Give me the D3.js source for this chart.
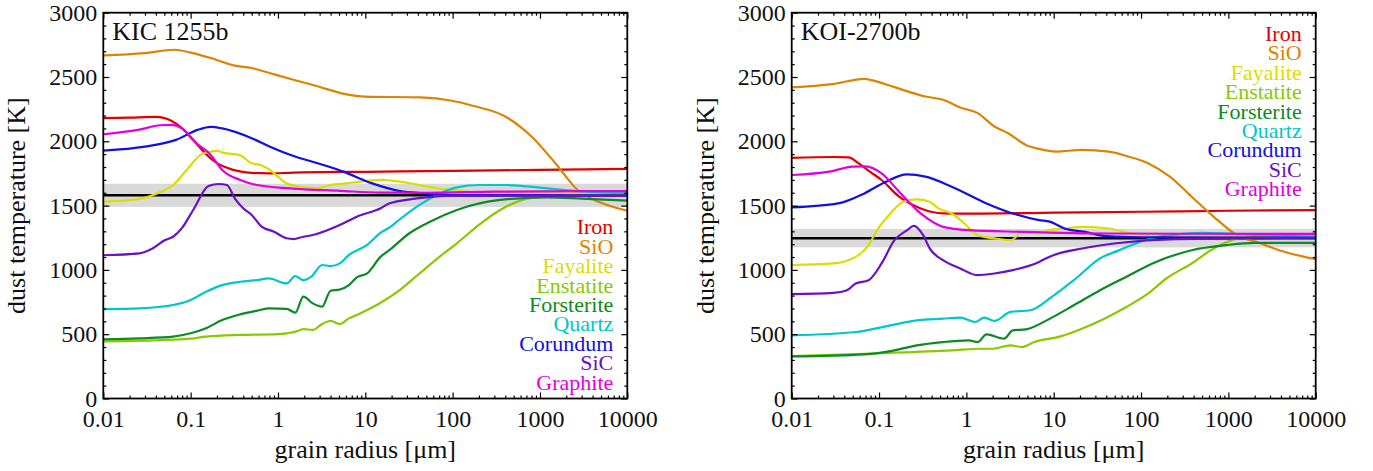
<!DOCTYPE html>
<html>
<head>
<meta charset="utf-8">
<script src="https://cdn.jsdelivr.net/npm/d3@7"></script>
<style>
  body { margin: 0; background: #fff; }
  svg { display: block; }
</style>
</head>
<body>
<div id="chart"></div>
<script>
// species, in legend order
const species = ["Iron", "SiO", "Fayalite", "Enstatite", "Forsterite", "Quartz", "Corundum", "SiC", "Graphite"];
const colors = ["#e00000", "#dc8400", "#dcdc00", "#8cc800", "#0b8a25", "#00c8c8", "#1010e0", "#6a10c8", "#e000e0"];

const xTicks = [0.01, 0.1, 1, 10, 100, 1000, 10000];
const xTickLabels = ["0.01", "0.1", "1", "10", "100", "1000", "10000"];
const yTicks = [0, 500, 1000, 1500, 2000, 2500, 3000];

// KIC 1255b: [grain radius (um), dust temperature (K)]
const kicIron = [[0.01,2180],[0.02,2184],[0.04,2190],[0.06,2160],[0.08,2100],[0.11,2000],[0.15,1900],[0.2,1830],[0.3,1780],[0.5,1755],[0.8,1750],[1.5,1757],[10,1763],[100,1770],[1000,1778],[10000,1785]];
const kicSiO = [[0.01,2668],[0.03,2685],[0.065,2712],[0.1,2690],[0.17,2648],[0.32,2588],[0.5,2570],[0.8,2531],[1.5,2479],[2.7,2432],[5.9,2367],[10,2348],[43,2341],[95,2317],[170,2276],[400,2193],[800,2037],[1500,1830],[2700,1621],[4700,1530],[10000,1460]];
const kicFayalite = [[0.01,1530],[0.025,1550],[0.04,1590],[0.05,1620],[0.063,1660],[0.09,1777],[0.13,1894],[0.17,1920],[0.2,1925],[0.24,1910],[0.36,1894],[0.5,1829],[0.63,1816],[0.8,1780],[1.0,1725],[1.25,1673],[1.8,1647],[2.8,1634],[4,1660],[6,1673],[10,1690],[15,1700],[20,1694],[35,1670],[60,1640],[100,1620],[200,1600],[1000,1595],[10000,1595]];
const kicEnstatite = [[0.01,444],[0.03,450],[0.1,465],[0.15,481],[0.37,494],[1,500],[1.26,507],[1.6,520],[1.95,540],[2.5,533],[3.2,579],[4,603],[5.1,579],[6.5,623],[8,649],[10.5,688],[15,745],[25,845],[43,980],[70,1100],[112,1207],[200,1350],[350,1466],[800,1560],[2000,1580],[10000,1576]];
const kicForsterite = [[0.01,460],[0.026,468],[0.063,481],[0.1,507],[0.15,546],[0.23,610],[0.37,654],[0.58,683],[0.8,701],[1.26,697],[1.58,667],[1.95,792],[2.5,740],[3.2,714],[4,838],[5.1,848],[6.5,882],[8,942],[10.5,973],[15,1103],[19,1155],[32,1285],[55,1375],[112,1466],[350,1544],[1200,1564],[3000,1555],[10000,1538]];
const kicQuartz = [[0.01,695],[0.026,701],[0.063,727],[0.1,766],[0.15,830],[0.23,882],[0.37,908],[0.58,921],[0.78,934],[1.26,895],[1.58,952],[1.95,921],[2.45,952],[3.2,1038],[4,1030],[5.1,1051],[6.5,1116],[10.5,1194],[15,1290],[19,1330],[23,1375],[39,1492],[66,1583],[112,1642],[200,1660],[400,1660],[1000,1640],[3000,1610],[10000,1595]];
const kicCorundum = [[0.01,1928],[0.03,1959],[0.068,2011],[0.12,2089],[0.17,2112],[0.23,2100],[0.5,2024],[0.8,1960],[1.4,1893],[3.3,1816],[5.6,1764],[12,1673],[25,1613],[46,1596],[100,1582],[10000,1578]];
const kicSiC = [[0.01,1114],[0.026,1129],[0.037,1168],[0.051,1232],[0.063,1258],[0.079,1323],[0.107,1466],[0.16,1652],[0.21,1668],[0.26,1660],[0.32,1557],[0.4,1479],[0.5,1427],[0.65,1336],[0.9,1297],[1.26,1246],[1.5,1240],[1.95,1258],[2.5,1271],[5.1,1349],[8,1414],[15,1479],[19,1518],[60,1569],[100,1578],[10000,1576]];
const kicGraphite = [[0.01,2055],[0.025,2089],[0.045,2125],[0.06,2128],[0.08,2100],[0.117,1985],[0.17,1894],[0.23,1777],[0.37,1699],[0.58,1660],[1.38,1634],[5.1,1615],[15,1601],[50,1600],[300,1608],[10000,1613]];

// KOI-2700b
const koiIron = [[0.01,1871],[0.03,1878],[0.045,1875],[0.058,1830],[0.08,1760],[0.107,1699],[0.17,1569],[0.3,1478],[0.54,1440],[1.0,1438],[10,1445],[100,1452],[1000,1460],[10000,1465]];
const koiSiO = [[0.01,2419],[0.029,2444],[0.068,2486],[0.08,2478],[0.15,2421],[0.34,2348],[0.54,2323],[0.85,2263],[1.35,2219],[2.1,2115],[3.0,2063],[4.8,1972],[6.8,1941],[10.7,1920],[21,1933],[43,1920],[68,1886],[120,1830],[214,1725],[380,1569],[680,1413],[1350,1257],[2100,1218],[3800,1153],[10000,1083]];
const koiFayalite = [[0.01,1037],[0.03,1050],[0.054,1101],[0.076,1193],[0.095,1309],[0.135,1439],[0.19,1530],[0.27,1548],[0.38,1530],[0.48,1478],[0.68,1439],[0.95,1361],[1.35,1270],[2.1,1245],[3.2,1231],[4.5,1296],[6.8,1283],[9,1310],[13.5,1322],[22,1335],[43,1322],[80,1282],[150,1270],[400,1262],[10000,1258]];
const koiEnstatite = [[0.01,330],[0.1,352],[0.68,374],[1.5,387],[2.0,387],[3.2,413],[4.3,400],[6,439],[12,483],[21,543],[38,621],[68,712],[120,816],[195,933],[380,1050],[680,1167],[1350,1245],[3000,1260],[10000,1258]];
const koiForsterite = [[0.01,327],[0.068,343],[0.15,374],[0.27,413],[0.54,439],[1.07,452],[1.35,439],[1.7,499],[2.7,465],[3.4,530],[4.8,538],[9.5,629],[17,725],[34,842],[68,946],[135,1050],[380,1153],[950,1193],[2000,1210],[10000,1210]];
const koiQuartz = [[0.01,491],[0.054,517],[0.135,569],[0.27,608],[0.54,621],[0.85,629],[1.26,595],[1.6,629],[2.1,603],[3.2,673],[5.4,686],[9.5,790],[17,920],[34,1090],[55,1150],[130,1245],[250,1275],[500,1288],[1000,1282],[3000,1268],[10000,1258]];
const koiCorundum = [[0.01,1486],[0.034,1517],[0.068,1595],[0.12,1686],[0.21,1743],[0.34,1725],[0.68,1647],[1.7,1517],[3.4,1439],[6.8,1387],[9,1375],[13.5,1320],[22,1297],[40,1262],[100,1254],[10000,1250]];
const koiSiC = [[0.01,811],[0.03,821],[0.043,842],[0.054,894],[0.076,920],[0.107,1050],[0.15,1231],[0.21,1309],[0.25,1343],[0.32,1270],[0.38,1167],[0.54,1076],[0.85,1011],[1.35,959],[2.1,972],[3.4,998],[6.8,1062],[9,1103],[22,1168],[52,1207],[250,1240],[10000,1250]];
const koiGraphite = [[0.01,1738],[0.027,1764],[0.05,1803],[0.07,1805],[0.107,1751],[0.17,1608],[0.3,1439],[0.54,1335],[1.07,1309],[4.3,1296],[43,1283],[10000,1280]];

// equilibrium temperature line and its shaded range
const kicTeq = [1580, 1490, 1670];
const koiTeq = [1246, 1175, 1318];

const panels = [
  {name: "KIC 1255b", left: 103.3, legendTop: 214, teq: kicTeq,
   series: [kicIron, kicSiO, kicFayalite, kicEnstatite, kicForsterite, kicQuartz, kicCorundum, kicSiC, kicGraphite]},
  {name: "KOI-2700b", left: 791.7, legendTop: 20.6, teq: koiTeq,
   series: [koiIron, koiSiO, koiFayalite, koiEnstatite, koiForsterite, koiQuartz, koiCorundum, koiSiC, koiGraphite]}
];

const W = 1373, H = 471;
const plotTop = 12.7, pw = 524, ph = 385.8;
const serif = "Liberation Serif";

const svg = d3.select("#chart").append("svg")
    .attr("width", W)
    .attr("height", H)
    .style("font-family", serif);

const x = d3.scaleLog().domain([0.01, 10000]).range([0, pw]);
const y = d3.scaleLinear().domain([0, 3000]).range([ph, 0]);

// minor ticks on the log axis: 2..9 of each decade
var xMinor = [];
xTicks.slice(0, -1).forEach(function(d) {
  for (var k = 2; k <= 9; k++) xMinor.push(d * k);
});
const yMinor = d3.range(0, 3001, 100).filter(d => d % 500 !== 0);

const line = d3.line()
    .x(d => x(d[0]))
    .y(d => y(d[1]))
    .curve(d3.curveMonotoneX);

panels.forEach(function(p, pi) {
  const g = svg.append("g").attr("transform", `translate(${p.left},${plotTop})`);

  g.append("clipPath").attr("id", "clip" + pi)
    .append("rect").attr("width", pw).attr("height", ph);

  const plot = g.append("g").attr("clip-path", `url(#clip${pi})`);

  plot.append("rect")
      .attr("x", 0)
      .attr("width", pw)
      .attr("y", y(p.teq[2]))
      .attr("height", y(p.teq[1]) - y(p.teq[2]))
      .attr("fill", "#d9d9d9");

  plot.append("line")
      .attr("x1", 0).attr("x2", pw)
      .attr("y1", y(p.teq[0])).attr("y2", y(p.teq[0]))
      .attr("stroke", "#000")
      .attr("stroke-width", 2.4);

  plot.selectAll("path.sp")
    .data(p.series)
    .enter().append("path")
      .attr("class", "sp")
      .attr("fill", "none")
      .attr("stroke", (d, i) => colors[i])
      .attr("stroke-width", 2.2)
      .attr("stroke-linejoin", "round")
      .attr("d", line);

  // axes, ticks pointing inward on all four sides
  const axes = [
    [d3.axisBottom(x).tickValues(xTicks).tickFormat((d, i) => xTickLabels[i]).tickSize(-6).tickPadding(11), `translate(0,${ph})`],
    [d3.axisBottom(x).tickValues(xMinor).tickFormat("").tickSize(-3), `translate(0,${ph})`],
    [d3.axisTop(x).tickValues(xTicks).tickFormat("").tickSize(-6), null],
    [d3.axisTop(x).tickValues(xMinor).tickFormat("").tickSize(-3), null],
    [d3.axisLeft(y).tickValues(yTicks).tickFormat(d3.format("d")).tickSize(-6).tickPadding(6), null],
    [d3.axisLeft(y).tickValues(yMinor).tickFormat("").tickSize(-3), null],
    [d3.axisRight(y).tickValues(yTicks).tickFormat("").tickSize(-6), `translate(${pw},0)`],
    [d3.axisRight(y).tickValues(yMinor).tickFormat("").tickSize(-3), `translate(${pw},0)`]
  ];
  axes.forEach(function(a) {
    const ag = g.append("g").call(a[0]);
    if (a[1]) ag.attr("transform", a[1]);
    ag.attr("font-family", null).attr("font-size", null);
    ag.select(".domain").remove();
    ag.selectAll(".tick line").attr("stroke", "#000").attr("stroke-width", 1.2);
    ag.selectAll(".tick text")
        .attr("fill", "#111")
        .style("font-family", serif)
        .style("font-size", "24px");
  });

  g.append("rect")
      .attr("width", pw)
      .attr("height", ph)
      .attr("fill", "none")
      .attr("stroke", "#000")
      .attr("stroke-width", 1.8);

  g.append("text")
      .attr("x", 9)
      .attr("y", 40 - plotTop)
      .attr("fill", "#111")
      .style("font-size", "26px")
      .text(p.name);

  g.selectAll("text.leg")
    .data(species)
    .enter().append("text")
      .attr("class", "leg")
      .attr("x", pw - 14)
      .attr("y", (d, i) => p.legendTop + i * 19.4)
      .attr("dy", "0.35em")
      .attr("text-anchor", "end")
      .attr("fill", (d, i) => colors[i])
      .style("font-size", "22px")
      .text(d => d);

  g.append("text")
      .attr("transform", `translate(${-87},${ph / 2}) rotate(-90)`)
      .attr("text-anchor", "middle")
      .attr("dy", "0.35em")
      .attr("fill", "#111")
      .style("font-size", "26px")
      .text("dust temperature [K]");

  g.append("text")
      .attr("x", pw / 2)
      .attr("y", 458 - plotTop)
      .attr("text-anchor", "middle")
      .attr("fill", "#111")
      .style("font-size", "26px")
      .text("grain radius [\u03bcm]");
});
</script>
</body>
</html>
